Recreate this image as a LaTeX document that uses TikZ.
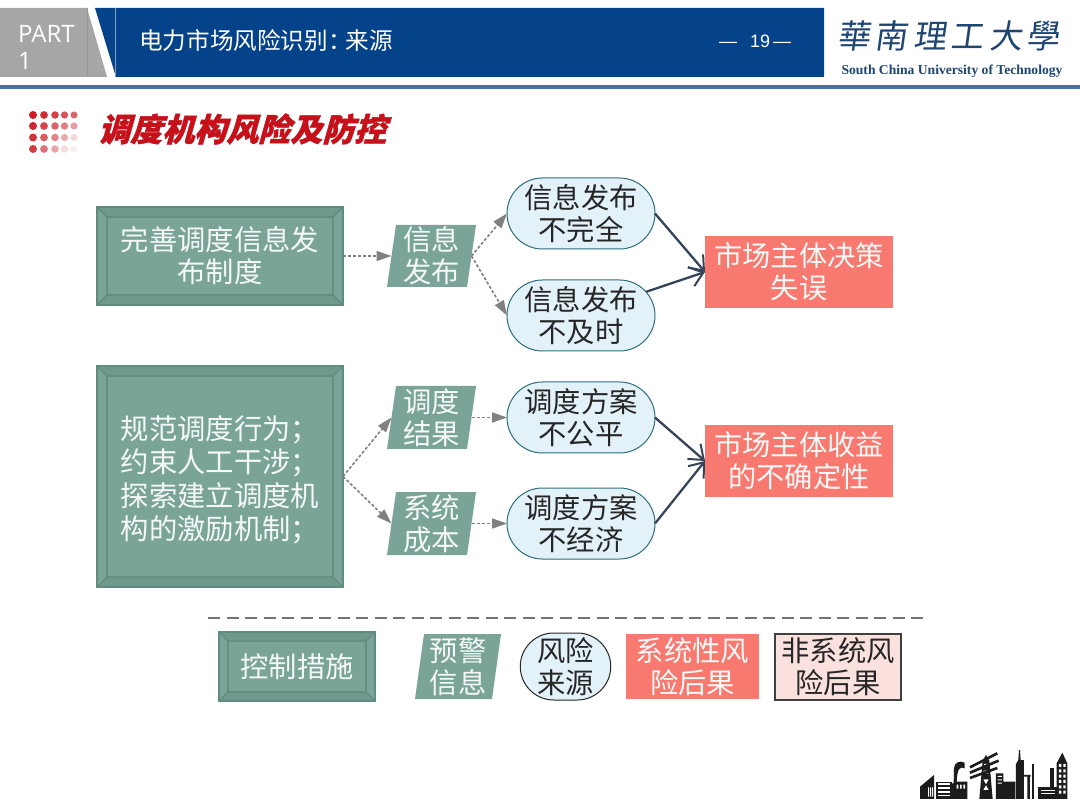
\documentclass[tikz,border=0pt]{standalone}
\usepackage{fontspec}
\setmainfont{Noto Sans CJK SC}
\newfontfamily\titlefont[FakeSlant=0.28,BoldFeatures={FakeSlant=0.28,FakeBold=1.3}]{Noto Sans CJK SC}
\newfontfamily\logofont[FakeSlant=0.14]{Noto Sans CJK TC}
\newfontfamily\partfont{Open Sans}
\newfontfamily\pagefont{Liberation Sans}
\newfontfamily\logolatin[BoldFont=Liberation Serif Bold]{Liberation Serif}
\usetikzlibrary{arrows.meta,calc,shapes.misc}
\definecolor{navy}{HTML}{04438A}
\definecolor{rulec}{HTML}{4A72A4}
\definecolor{partgrey}{HTML}{A6A6A6}
\definecolor{greenf}{HTML}{7BA498}
\definecolor{greend}{HTML}{628B7F}
\definecolor{greenm}{HTML}{6F998D}
\definecolor{palew}{HTML}{F4F8F6}
\definecolor{ovalf}{HTML}{E3F2F9}
\definecolor{ovald}{HTML}{2F6E7E}
\definecolor{redf}{HTML}{F8796F}
\definecolor{pinkf}{HTML}{FBE1DE}
\definecolor{darkarrow}{HTML}{34455A}
\definecolor{inktext}{HTML}{262626}
\definecolor{titlered}{HTML}{C6101A}
\definecolor{dotred}{HTML}{CC1C26}
\definecolor{logoink}{HTML}{1F4573}
\definecolor{skyink}{HTML}{1C1C1C}
\tikzset{
  txt/.style={font=\fontsize{28.3}{32}\selectfont,align=center,inner sep=0pt,outer sep=0pt},
  bevelbox/.style={txt,fill=greenf,draw=greend,line width=2pt,text=palew},
  parabox/.style={txt,text=palew,minimum width=80pt},
  ovalbox/.style={txt,rounded rectangle,rounded rectangle arc length=180,fill=ovalf,draw=ovald,line width=1pt,text=inktext},
  redbox/.style={txt,fill=redf,text=palew},
  softarrow/.style={draw=black!50,dash pattern=on 3pt off 2pt,line width=1.6pt,-{Stealth[length=15pt,width=10pt,inset=0pt,fill=black!50,color=black!50]}},
  hardarrow/.style={draw=darkarrow,line width=2.3pt,-{Straight Barb[length=13pt,width=20pt,line width=2pt]}},
  winw/.style={fill=white},
}
\newcommand{\bevelnode}[7][10]{%
  \node[bevelbox,minimum width=#5pt,minimum height=#6pt] (#2) at (#3,#4) {#7};
  \fill[greenm] (#2.north west) -- (#2.north east) -- ($(#2.north east)+(-#1,#1)$) -- ($(#2.north west)+(#1,#1)$) -- cycle;
  \fill[greenm] (#2.south west) -- (#2.south east) -- ($(#2.south east)+(-#1,-#1)$) -- ($(#2.south west)+(#1,-#1)$) -- cycle;
  \draw[greend!85!greenf,line width=1.4pt] ($(#2.north west)+(#1,#1)$) rectangle ($(#2.south east)+(-#1,-#1)$);
  \draw[greend,line width=1.2pt] (#2.north west) -- ($(#2.north west)+(#1,#1)$)
     (#2.north east) -- ($(#2.north east)+(-#1,#1)$)
     (#2.south west) -- ($(#2.south west)+(#1,-#1)$)
     (#2.south east) -- ($(#2.south east)+(-#1,-#1)$);
  \draw[greend,line width=2.4pt] (#2.north west) rectangle (#2.south east);
}
\newcommand{\paranode}[6]{%
  \fill[greenf] (#2-40+#5,#3-#4/2) -- (#2+40+#5,#3-#4/2) -- (#2+40-#5,#3+#4/2) -- (#2-40-#5,#3+#4/2) -- cycle;
  \node[parabox,minimum height=#4pt] (#1) at (#2,#3) {#6};
}
\begin{document}
\begin{tikzpicture}[x=1pt,y=-1pt]
\useasboundingbox (0,0) rectangle (1080,810);
\fill[white] (0,0) rectangle (1080,810);
% header
\fill[partgrey] (0,8) -- (87,8) -- (107,77) -- (0,77) -- cycle;
\draw[black!42,line width=.5pt] (87,8) -- (87,77);
\fill[navy] (95,8) -- (824,8) -- (824,77) -- (116,77) -- cycle;
\draw[rulec!70!white,line width=.6pt] (115.5,8) -- (115.5,77);
\fill[rulec] (0,85) rectangle (1080,89.5);
\node[inner sep=0pt,anchor=west,text=white,align=left,font=\partfont\fontsize{24}{27}\selectfont] (part) at (18,47) {PART\\1};
\node[inner sep=0pt,anchor=west,text=white,font=\fontsize{23.6}{28}\selectfont] (head) at (139,40) {电力市场风险识别^^^^ff1a\hspace{-6pt}来源};
\node[inner sep=0pt,anchor=west,text=white,font=\pagefont\fontsize{18}{20}\selectfont] (page) at (719,41) {—\hspace{13pt}19\hspace{3pt}—};
% logo
\node[inner sep=0pt,anchor=center,text=logoink,font=\logofont\fontsize{33}{42}\selectfont] (logo) at (948.5,36) {華\hspace{5pt}南\hspace{5pt}理\hspace{5pt}工\hspace{5pt}大\hspace{5pt}學};
\node[inner sep=0pt,anchor=center,text=logoink,font=\logolatin\bfseries\fontsize{13.6}{15}\selectfont] (logosub) at (952,71) {South China University of Technology};
% dots
\foreach \px/\i in {33/0,44/1,55/2,64.5/3,74/4}{
  \foreach \py/\j in {115/0,126/1,137.5/2,149/3}{
    \pgfmathsetmacro{\op}{max(0.08,1-\i*0.08-\j*0.05-\i*\j*0.05)}
    \pgfmathsetmacro{\rad}{4-\i*0.12}
    \fill[dotred,opacity=\op] (\px,\py) circle (\rad pt);
  }
}
\node[inner sep=0pt,anchor=west,text=titlered,font=\titlefont\bfseries\fontsize{32}{36}\selectfont] (title) at (98,129) {调度机构风险及防控};
% main nodes
\bevelnode{b1}{220}{256}{246}{98}{完善调度信息发\\布制度}
\bevelnode{b2}{220}{476.5}{246}{221}{\raisebox{-12pt}[0pt][0pt]{\begin{tabular}{@{}l@{}}规范调度行为^^^^ff1b\\约束人工干涉^^^^ff1b\\探索建立调度机\\构的激励机制^^^^ff1b\end{tabular}}}
\paranode{p1}{431.5}{256}{62}{4.5}{信息\\发布}
\paranode{p2}{431.5}{417.5}{63}{4.5}{调度\\结果}
\paranode{p3}{431.5}{523.5}{63}{4.5}{系统\\成本}
\node[ovalbox,minimum width=148pt,minimum height=71pt] (e1) at (581,213.5) {信息发布\\不完全};
\node[ovalbox,minimum width=148pt,minimum height=71pt] (e2) at (581,315.5) {信息发布\\不及时};
\node[ovalbox,minimum width=148pt,minimum height=71pt] (e3) at (581,417.5) {调度方案\\不公平};
\node[ovalbox,minimum width=148pt,minimum height=71pt] (e4) at (581,523.5) {调度方案\\不经济};
\node[redbox,minimum width=188pt,minimum height=72pt] (r1) at (799,272) {市场主体决策\\失误};
\node[redbox,minimum width=188pt,minimum height=72pt] (r2) at (799,461) {市场主体收益\\的不确定性};
% connectors
\draw[softarrow] (b1.east) -- (p1.west);
\draw[softarrow] (p1.east) -- (e1.west);
\draw[softarrow] (p1.east) -- (e2.west);
\draw[softarrow] (b2.east) -- (p2.west);
\draw[softarrow] (b2.east) -- (p3.west);
\draw[softarrow] (p2.east) -- (e3.west);
\draw[softarrow] (p3.east) -- (e4.west);
\draw[hardarrow] (e1.east) -- (r1.west);
\draw[hardarrow] (e2.20) -- (r1.west);
\draw[hardarrow] (e3.east) -- (r2.west);
\draw[hardarrow] (e4.east) -- (r2.west);
% legend
\coordinate (dashl) at (208,618);
\coordinate (dashr) at (924,618);
\draw[black!55,line width=1.5pt,dash pattern=on 12pt off 6.5pt] (dashl) -- (dashr);
\bevelnode[9]{l1}{297}{666.5}{156}{69}{控制措施}
\fill[greenf] (424,634) -- (501,634) -- (492,699) -- (415,699) -- cycle;
\node[parabox,minimum width=77pt,minimum height=65pt] (l2) at (458,666.5) {预警\\信息};
\node[ovalbox,draw=black!85,fill=ovalf,minimum width=89pt,minimum height=67pt] (l3) at (565.5,666.5) {风险\\来源};
\node[redbox,minimum width=133pt,minimum height=65pt] (l4) at (692.5,666.5) {系统性风\\险后果};
\node[txt,fill=pinkf,draw=black!75,line width=1.2pt,text=inktext,minimum width=126pt,minimum height=66pt] (l5) at (838,667) {非系统风\\险后果};
% skyline
\begin{scope}[shift={(910,740)},scale=0.3333,skyink]
  \fill[skyink] (30,177) -- (30,140) -- (72,105) -- (72,177) -- cycle;
  \fill[winw] (54,142) rectangle (57,170) (60,142) rectangle (63,170) (66,142) rectangle (69,170);
  \fill[skyink] (77,125) rectangle (126,177);
  \foreach \wy in {130,142,154,164}{\fill[winw] (84,\wy) rectangle (120,\wy+4);}
  \fill[skyink] (126,177) -- (126,130) -- (131,130) -- (132,85) .. controls (132,68) and (150,60) .. (164,68) -- (164,85) .. controls (150,78) and (142,85) .. (140,125) -- (172,125) -- (172,177) -- cycle;
  \fill[winw] (140,134) rectangle (145,146) (150,134) rectangle (155,146) (160,134) rectangle (165,146);
  % pylon
  \fill[skyink] (228,45) -- (238,62) -- (248,177) -- (208,177) -- (218,62) -- cycle;
  \fill[winw] (222,72) rectangle (234,80) (221,92) rectangle (235,100) (220,118) -- (236,118) -- (228,133) -- cycle (220,150) -- (236,150) -- (228,136) -- cycle;
  \draw[skyink,line width=2.6pt] (180,82) -- (262,40) (180,98) -- (266,62) (180,114) -- (262,84);
  % plant
  \fill[skyink] (258,100) rectangle (280,177) (280,125) rectangle (316,177);
  \fill[winw] (263,108) rectangle (276,111) (263,118) rectangle (276,121) (263,128) rectangle (276,131);
  \fill[skyink] (318,177) -- (318,72) -- (325,60) -- (327,30) -- (330,30) -- (332,60) -- (342,60) -- (342,177) -- cycle;
  \fill[skyink] (342,105) rectangle (362,110) (352,110) rectangle (360,177);
  \fill[skyink] (365,72) rectangle (373,177);
  \fill[skyink] (384,140) rectangle (440,177);
  \foreach \wy in {150,160}{\fill[winw] (392,\wy) rectangle (434,\wy+3);}
  \fill[skyink] (420,85) rectangle (432,140);
  \fill[skyink] (440,177) -- (440,70) -- (457,38) -- (472,70) -- (472,177) -- cycle;
  \foreach \wy in {72,88,104,120,136,152}{\fill[winw] (447,\wy) rectangle (454,\wy+9) (460,\wy) rectangle (467,\wy+9);}
\end{scope}
\end{tikzpicture}
\end{document}
